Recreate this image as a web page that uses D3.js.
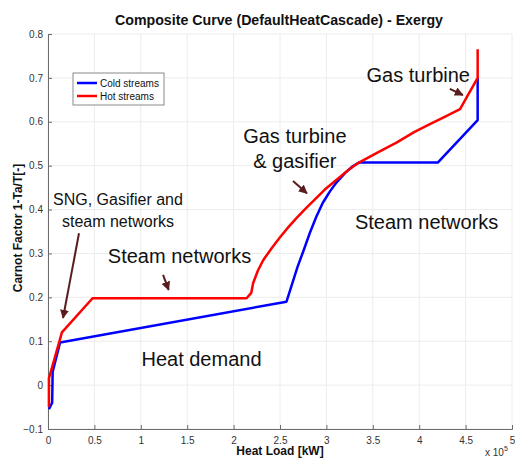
<!DOCTYPE html>
<html>
<head>
<meta charset="utf-8">
<script src="https://cdn.jsdelivr.net/npm/d3@7"></script>
<style>
  html, body { margin: 0; padding: 0; background: #fff; overflow: hidden; }
  svg { display: block; font-family: "Liberation Sans", Arial, sans-serif; }
</style>
</head>
<body>
<svg id="chart"></svg>
<script>
// Composite curve (exergy) - heat load in kW, Carnot factor 1-Ta/T

// Cold composite curve
const coldLoad = [1000, 4500, 5000, 13000, 257000, 263000, 269000, 276000, 282000, 289000, 296000, 304000, 311000, 320000, 328000, 335000, 420000, 463000, 463000];
const coldCarnot = [-0.055, -0.04, 0.03, 0.097, 0.19, 0.23, 0.27, 0.31, 0.346, 0.383, 0.415, 0.442, 0.462, 0.483, 0.498, 0.507, 0.507, 0.604, 0.70];

// Hot composite curve
const hotLoad = [1000, 1000, 3000, 15000, 48000, 214000, 219000, 221000, 226000, 232000, 241000, 250000, 259000, 268000, 277000, 286000, 298000, 311000, 323000, 335000, 356000, 376000, 394000, 411000, 428000, 444000, 463000, 463000];
const hotCarnot = [-0.05, 0.016, 0.03, 0.12, 0.198, 0.198, 0.21, 0.232, 0.26, 0.285, 0.312, 0.337, 0.36, 0.381, 0.401, 0.42, 0.445, 0.468, 0.489, 0.507, 0.531, 0.553, 0.576, 0.594, 0.612, 0.629, 0.70, 0.765];

const xTicks = [0, 50000, 100000, 150000, 200000, 250000, 300000, 350000, 400000, 450000, 500000];
const yTicks = [-0.1, 0, 0.1, 0.2, 0.3, 0.4, 0.5, 0.6, 0.7, 0.8];

// Annotation texts (anchored in data space)
const labels = [
    { lines: ['Gas turbine'], x: 399000, y: 0.69, size: 20 },
    { lines: ['Gas turbine', '& gasifier'], x: 266000, y: 0.551, size: 20 },
    { lines: ['Steam networks'], x: 408000, y: 0.355, size: 20 },
    { lines: ['SNG, Gasifier and', 'steam networks'], x: 75400, y: 0.41, size: 16 },
    { lines: ['Steam networks'], x: 141700, y: 0.278, size: 20 },
    { lines: ['Heat demand'], x: 165400, y: 0.0435, size: 20 }
];

// Arrows pointing at the curve sections: [fromLoad, fromCarnot, toLoad, toCarnot]
const arrows = [
    [433000, 0.675, 447000, 0.661],
    [264000, 0.465, 279000, 0.437],
    [33400, 0.346, 16200, 0.153],
    [124000, 0.251, 130000, 0.217]
];

const width = 515, height = 459;
const margin = { top: 34, right: 3, bottom: 30, left: 48 };
const innerWidth = width - margin.left - margin.right;
const innerHeight = height - margin.top - margin.bottom;

const svg = d3.select('#chart')
    .attr('width', width)
    .attr('height', height);

const g = svg.append('g')
    .attr('transform', `translate(${margin.left},${margin.top})`);

const xScale = d3.scaleLinear().domain([0, 500000]).range([0, innerWidth]);
const yScale = d3.scaleLinear().domain([-0.1, 0.8]).range([innerHeight, 0]);

// Grid
g.append('g')
    .selectAll('line')
    .data(xTicks)
    .join('line')
    .attr('x1', d => xScale(d)).attr('x2', d => xScale(d))
    .attr('y1', 0).attr('y2', innerHeight)
    .attr('stroke', '#ececec');

g.append('g')
    .selectAll('line')
    .data(yTicks)
    .join('line')
    .attr('x1', 0).attr('x2', innerWidth)
    .attr('y1', d => yScale(d)).attr('y2', d => yScale(d))
    .attr('stroke', '#ececec');

// Axes (ticks point inwards, matlab style)
const xAxis = d3.axisBottom(xScale)
    .tickValues(xTicks)
    .tickSize(-4)
    .tickPadding(8)
    .tickFormat(d => d3.format('~g')(d / 1e5));

const yAxis = d3.axisLeft(yScale)
    .tickValues(yTicks)
    .tickSize(-4)
    .tickPadding(5)
    .tickFormat(d => d3.format('~g')(+d.toFixed(1)));

const xg = g.append('g')
    .attr('transform', `translate(0,${innerHeight})`)
    .call(xAxis);

const yg = g.append('g').call(yAxis);

[xg, yg].forEach(ax => {
    ax.select('.domain').attr('stroke', '#6b6b6b');
    ax.selectAll('.tick line').attr('stroke', '#6b6b6b');
    ax.selectAll('.tick text')
        .attr('fill', '#333')
        .attr('font-size', '10px')
        .attr('font-family', '"Liberation Sans", Arial, sans-serif');
});

// Exponent label
const expo = svg.append('text')
    .attr('x', width - 30)
    .attr('y', 456)
    .attr('font-size', '10px')
    .attr('fill', '#333');
expo.append('tspan').text('x 10');
expo.append('tspan').attr('dy', -5).attr('font-size', '7px').text('5');

// Axis titles
svg.append('text')
    .attr('x', margin.left + innerWidth / 2)
    .attr('y', 455)
    .attr('text-anchor', 'middle')
    .attr('font-weight', 'bold')
    .attr('font-size', '12px')
    .attr('fill', '#111')
    .text('Heat Load [kW]');

svg.append('text')
    .attr('transform', 'rotate(-90)')
    .attr('x', -228)
    .attr('y', 22)
    .attr('text-anchor', 'middle')
    .attr('font-weight', 'bold')
    .attr('font-size', '12px')
    .attr('fill', '#111')
    .text('Carnot Factor 1-Ta/T[-]');

// Title
svg.append('text')
    .attr('x', 279)
    .attr('y', 25)
    .attr('text-anchor', 'middle')
    .attr('font-weight', 'bold')
    .attr('font-size', '14.2px')
    .attr('fill', '#111')
    .text('Composite Curve (DefaultHeatCascade) - Exergy');

// Curves
const line = d3.line()
    .x(d => xScale(d[0]))
    .y(d => yScale(d[1]));

g.append('path')
    .datum(d3.zip(coldLoad, coldCarnot))
    .attr('fill', 'none')
    .attr('stroke', '#0000ff')
    .attr('stroke-width', 2.5)
    .attr('stroke-linejoin', 'round')
    .attr('d', line);

g.append('path')
    .datum(d3.zip(hotLoad, hotCarnot))
    .attr('fill', 'none')
    .attr('stroke', '#ff0000')
    .attr('stroke-width', 2.5)
    .attr('stroke-linejoin', 'round')
    .attr('d', line);

// Arrow marker
svg.append('defs').append('marker')
    .attr('id', 'head')
    .attr('viewBox', '0 0 10 10')
    .attr('refX', 9).attr('refY', 5)
    .attr('markerWidth', 4.5).attr('markerHeight', 4.5)
    .attr('markerUnits', 'strokeWidth')
    .attr('orient', 'auto')
    .append('path')
    .attr('d', 'M0,0 L10,5 L0,10 Z')
    .attr('fill', '#5a1c1c');

g.selectAll('.arrow')
    .data(arrows)
    .join('line')
    .attr('class', 'arrow')
    .attr('x1', d => xScale(d[0])).attr('y1', d => yScale(d[1]))
    .attr('x2', d => xScale(d[2])).attr('y2', d => yScale(d[3]))
    .attr('stroke', '#5a1c1c')
    .attr('stroke-width', 2)
    .attr('marker-end', 'url(#head)');

// Annotation text
labels.forEach(l => {
    const t = g.append('text')
        .attr('x', xScale(l.x))
        .attr('y', yScale(l.y))
        .attr('text-anchor', 'middle')
        .attr('font-size', l.size + 'px')
        .attr('fill', '#111');
    l.lines.forEach((s, i) => {
        t.append('tspan')
            .attr('x', xScale(l.x))
            .attr('dy', i === 0 ? 0 : (l.size === 16 ? 22 : 25))
            .text(s);
    });
});

// Legend
const legend = svg.append('g')
    .attr('transform', 'translate(73,73)');

legend.append('rect')
    .attr('width', 91).attr('height', 32)
    .attr('fill', '#fff')
    .attr('stroke', '#8a8a8a');

const legendItems = [
    { label: 'Cold streams', color: '#0000ff' },
    { label: 'Hot streams', color: '#ff0000' }
];

const li = legend.selectAll('.legend-item')
    .data(legendItems)
    .join('g')
    .attr('transform', (d, i) => `translate(4, ${10 + i * 13})`);

li.append('line')
    .attr('x1', 0).attr('x2', 20)
    .attr('stroke', d => d.color)
    .attr('stroke-width', 2.5);

li.append('text')
    .attr('x', 23)
    .attr('dy', '0.35em')
    .attr('font-size', '10px')
    .attr('fill', '#111')
    .text(d => d.label);
</script>
</body>
</html>
